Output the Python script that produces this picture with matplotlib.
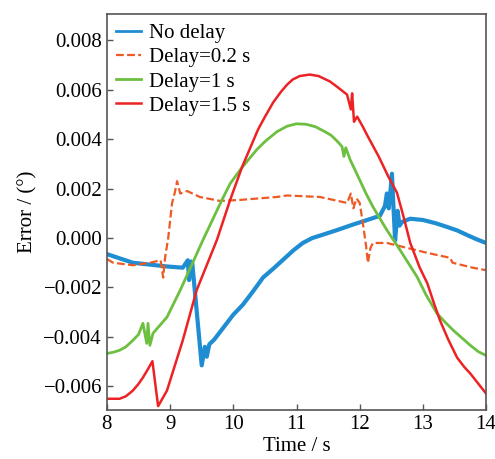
import numpy as np
import matplotlib
matplotlib.use("Agg")
import matplotlib.pyplot as plt
from matplotlib.ticker import FuncFormatter

# values (time in s, error in degrees)
t_nodelay = [8.0, 8.41, 8.95, 9.2, 9.28, 9.30, 9.33, 9.35, 9.50, 9.55, 9.58, 9.62,
             9.7, 9.85, 10.0, 10.15, 10.3, 10.47, 10.65, 10.8, 10.95, 11.1, 11.25,
             11.4, 11.64, 11.9, 12.12, 12.32, 12.40,
             12.43, 12.46, 12.49, 12.51, 12.53, 12.56, 12.60, 12.63, 12.67,
             12.8, 13.0, 13.2, 13.38, 13.55, 13.7, 13.85, 14.0]
e_nodelay = [-0.00065, -0.00100, -0.00115, -0.00120, -0.00090, -0.00170, -0.00095,
             -0.00100, -0.00515, -0.00440, -0.00480, -0.00430,
             -0.00410, -0.00360, -0.00310, -0.00270, -0.00220, -0.00160, -0.00120,
             -0.00085, -0.00050, -0.00020, 0.00000,
             0.00012, 0.00032, 0.00055, 0.00073, 0.00090, 0.00130,
             0.00180, 0.00120, 0.00200, 0.00260, 0.00150, -0.00010, 0.00110,
             0.00050, 0.00065,
             0.00078, 0.00073, 0.00060, 0.00045, 0.00030, 0.00012, -0.00005,
             -0.00020]

t_d02 = [8.0, 8.10, 8.41, 8.68, 8.85, 8.89, 8.92, 8.97, 9.03, 9.08, 9.11, 9.16,
         9.27, 9.47, 9.79, 10.1, 10.69, 10.85, 11.37, 11.80, 11.86, 11.90, 11.95,
         12.0, 12.05, 12.10, 12.13, 12.17, 12.21, 12.43, 12.59, 13.07, 13.43,
         13.47, 13.79, 14.0]
e_d02 = [-0.00085, -0.00100, -0.00110, -0.00100, -0.00090, -0.00160, -0.00080,
         0.00000, 0.00140, 0.00190, 0.00230, 0.00180,
         0.00190, 0.00166, 0.00150, 0.00154, 0.00166, 0.00172, 0.00166, 0.00142,
         0.00180, 0.00120, 0.00160, 0.00142, 0.00060, -0.00030, -0.00100, -0.00040,
         -0.00020, -0.00020, -0.00030, -0.00060, -0.00080,
         -0.00100, -0.00120, -0.00130]

t_d1 = [8.0, 8.1, 8.2, 8.3, 8.41, 8.5, 8.57, 8.63, 8.65, 8.68, 8.73, 8.95, 9.16,
        9.52, 9.82, 9.95, 10.11, 10.25, 10.37, 10.5, 10.69, 10.85, 11.0, 11.15,
        11.3, 11.45, 11.55, 11.65, 11.72, 11.75, 11.78, 11.85, 12.0, 12.1,
        12.21, 12.43, 12.64, 12.91, 13.05, 13.22, 13.35, 13.48, 13.6, 13.75,
        13.88, 14.0]
e_d1 = [-0.00467, -0.00462, -0.00454, -0.00440, -0.00414, -0.00390, -0.00345,
        -0.00426, -0.00345, -0.00434, -0.00385, -0.00320, -0.00211,
        -0.00008, 0.00154, 0.00220, 0.00276, 0.00320, 0.00357, 0.00390, 0.00430,
        0.00452, 0.00462, 0.00460,
        0.00450, 0.00430, 0.00415, 0.00390, 0.00370, 0.00330, 0.00365, 0.00316,
        0.00235, 0.00180,
        0.00126, 0.00032, -0.00049, -0.00158, -0.00230, -0.00304, -0.00340,
        -0.00373, -0.00400, -0.00434, -0.00460, -0.00475]

t_d15 = [8.0, 8.2, 8.3, 8.41, 8.5, 8.57, 8.65, 8.72, 8.81, 8.95, 9.2, 9.42, 9.74,
         9.95, 10.14, 10.39, 10.5, 10.63, 10.75, 10.85, 10.94, 11.05, 11.21,
         11.35, 11.53, 11.65, 11.80, 11.86, 11.88, 11.91, 11.96, 12.05,
         12.12, 12.3, 12.45, 12.59, 12.7, 12.8, 12.95, 13.07, 13.17, 13.27,
         13.4, 13.54, 13.65, 13.75, 13.88, 14.0]
e_d15 = [-0.00650, -0.00650, -0.00640, -0.00617, -0.00590, -0.00564, -0.00530,
         -0.00498, -0.00680, -0.00617, -0.00414, -0.00211, -0.00008,
         0.00154, 0.00288, 0.00438, 0.00490, 0.00548, 0.00590, 0.00620, 0.00641,
         0.00655, 0.00661,
         0.00655, 0.00633, 0.00610, 0.00580, 0.00520, 0.00585, 0.00470, 0.00491,
         0.00450,
         0.00415, 0.00330, 0.00250, 0.00183, 0.00080, -0.00020, -0.00120,
         -0.00183, -0.00260, -0.00333,
         -0.00410, -0.00483, -0.00520, -0.00548, -0.00590, -0.00629]

x_ticks = [8, 9, 10, 11, 12, 13, 14]
y_ticks = [-0.006, -0.004, -0.002, 0.000, 0.002, 0.004, 0.006, 0.008]

plt.rcParams["font.family"] = ["Liberation Serif", "DejaVu Serif"]

fig = plt.figure(figsize=(4.95, 4.59), dpi=100)
ax = fig.add_axes([0.216, 0.107, 0.766, 0.862])

ax.plot(t_nodelay, e_nodelay, color="#1f8dd2", lw=3.0, label="No delay")
ax.plot(t_d02, e_d02, color="#ee5a24", lw=1.6, ls=(0, (3.5, 1.5)),
        label="Delay=0.2 s")
ax.plot(t_d1, e_d1, color="#6dbf40", lw=2.0, label="Delay=1 s")
ax.plot(t_d15, e_d15, color="#ec2224", lw=1.8, label="Delay=1.5 s")

ax.set_xlim(8, 14)
ax.set_ylim(-0.00695, 0.00905)
ax.set_xticks(x_ticks)
ax.set_yticks(y_ticks)
ax.yaxis.set_major_formatter(
    FuncFormatter(lambda v, _: f"{v:.3f}".replace("-", "\u2212")))
ax.tick_params(direction="in", length=4, width=1, labelsize=15, color="#555555",
               top=False, right=False)
for s in ax.spines.values():
    s.set_color("#555555")
    s.set_linewidth(1.2)

ax.set_xlabel("Time / s", fontsize=15, labelpad=2)
ax.set_ylabel("Error / (°)", fontsize=15, labelpad=4)

leg = ax.legend(loc="upper left", frameon=False, fontsize=15, handlelength=1.2,
                handletextpad=0.35, labelspacing=0.22, borderaxespad=0.15,
                borderpad=0.3)
leg.get_lines()[0].set_linewidth(2.0)

fig.savefig("out.png", dpi=100)
